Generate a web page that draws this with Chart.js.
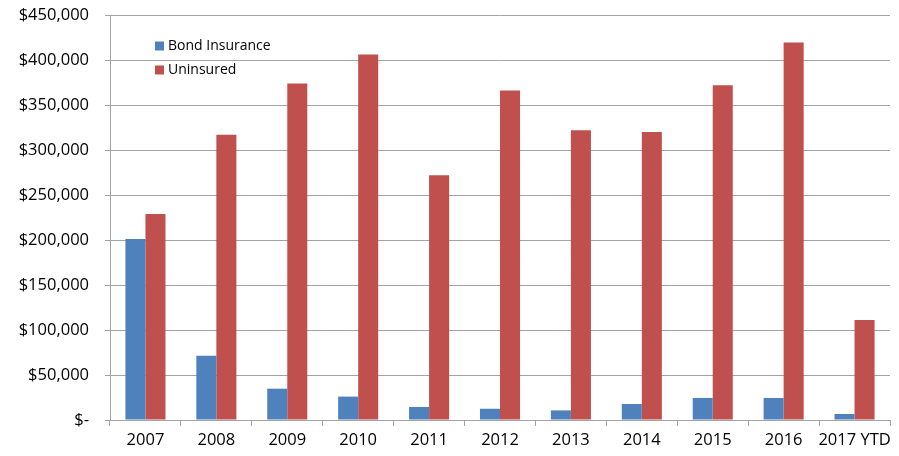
<!DOCTYPE html>
<html>
<head>
<meta charset="utf-8">
<script src="https://cdn.jsdelivr.net/npm/chart.js@4/dist/chart.umd.min.js"></script>
<style>
    body { margin: 0; background: #fff; }
    #wrap { width: 899px; height: 456px; }
</style>
</head>
<body>
<div id="wrap"><canvas id="fundingGraph"></canvas></div>
<script>
var years = ["2007", "2008", "2009", "2010", "2011", "2012", "2013", "2014", "2015", "2016", "2017 YTD"];
var bondInsurance = [201000, 71500, 34800, 26000, 14500, 12500, 10700, 17800, 24500, 24500, 6700];
var uninsured = [229000, 317000, 374000, 406000, 272000, 366000, 322000, 320000, 372000, 419500, 111000];
var seriesNames = ["Bond Insurance", "Uninsured"];
var colourList = ["#4F81BD", "#C0504D"];

var gridColour = "#a3a3a3";
var fontName = "'Open Sans', 'Liberation Sans', sans-serif";

function formatDollars(value){
    if(value == 0){
        return "$-";
    }
    return "$" + value.toLocaleString("en-US");
}

function getBarData(values, index){
    return {
        label: seriesNames[index],
        data: values,
        backgroundColor: colourList[index],
        borderWidth: 0,
        barPercentage: 1,
        categoryPercentage: 0.565
    }
}

// legend drawn as a two-row key inside the plot area
var insideLegend = {
    id: "insideLegend",
    afterDraw: function(chart){
        var ctx = chart.ctx;
        var area = chart.chartArea;
        var x = area.left + 45;
        var y = area.top + 31;
        ctx.save();
        ctx.font = "14px " + fontName;
        ctx.textBaseline = "middle";
        chart.data.datasets.forEach(function(ds, i){
            var rowY = y + i * 24;
            ctx.fillStyle = ds.backgroundColor;
            ctx.fillRect(x, rowY - 4.5, 9, 9);
            ctx.fillStyle = "#000";
            ctx.fillText(ds.label, x + 13, rowY);
        });
        ctx.restore();
    }
};

new Chart("fundingGraph", {
    type: "bar",
    data: {
        labels: years,
        datasets: [getBarData(bondInsurance, 0), getBarData(uninsured, 1)]
    },
    plugins: [insideLegend],
    options: {
        responsive: true,
        maintainAspectRatio: false,
        animation: false,
        layout: {
            padding: { top: 15, right: 9, left: 0, bottom: 0 }
        },
        plugins: {
            legend: { display: false },
            tooltip: { enabled: false }
        },
        scales: {
            x: {
                afterFit: function(scale){ scale.height = 36; },
                grid: {
                    offset: true,
                    drawOnChartArea: false,
                    tickLength: 6,
                    color: gridColour
                },
                border: { color: gridColour },
                ticks: {
                    color: "#000",
                    padding: 4,
                    maxRotation: 0,
                    minRotation: 0,
                    autoSkip: false,
                    font: { family: fontName, size: 16.5 }
                }
            },
            y: {
                min: 0,
                max: 450000,
                afterFit: function(scale){
                    scale.width = 110;
                    scale.paddingTop = 0;
                    scale.paddingBottom = 0;
                },
                grid: {
                    color: gridColour,
                    tickLength: 5
                },
                border: { color: gridColour },
                ticks: {
                    stepSize: 50000,
                    color: "#000",
                    padding: 16,
                    font: { family: fontName, size: 16.5 },
                    callback: formatDollars
                }
            }
        }
    }
});
</script>
</body>
</html>
